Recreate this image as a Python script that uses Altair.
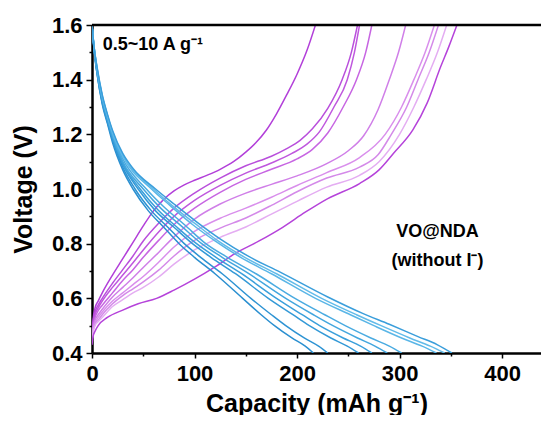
import altair as alt
import pandas as pd

# ---------------- charge curves (capacity mAh/g, voltage V) ----------------
c0_cap = [0, 1, 3, 6, 10, 20, 30, 40, 50, 60, 70, 80, 90, 100, 112, 125, 138, 150, 160, 170, 180, 190, 200, 210, 218]
c0_v = [0.44, 0.52, 0.565, 0.59, 0.62, 0.685, 0.745, 0.805, 0.865, 0.92, 0.962, 0.993, 1.015, 1.032, 1.05, 1.072, 1.1, 1.135, 1.17, 1.215, 1.275, 1.345, 1.42, 1.51, 1.6]
c1_cap = [0, 1, 3, 6, 10, 20, 30, 40, 50, 65, 80, 100, 125, 150, 175, 190, 203, 215, 230, 244, 253, 259]
c1_v = [0.44, 0.51, 0.55, 0.575, 0.6, 0.655, 0.705, 0.755, 0.81, 0.875, 0.93, 0.985, 1.04, 1.085, 1.12, 1.148, 1.178, 1.22, 1.295, 1.4, 1.5, 1.6]
c2_cap = [0, 1, 3, 6, 10, 20, 30, 40, 50, 65, 80, 100, 125, 150, 175, 195, 210, 222, 236, 249, 256, 261]
c2_v = [0.44, 0.5, 0.54, 0.565, 0.59, 0.64, 0.685, 0.73, 0.777, 0.843, 0.9, 0.958, 1.013, 1.058, 1.095, 1.13, 1.165, 1.21, 1.3, 1.4, 1.5, 1.6]
c3_cap = [0, 1, 3, 6, 10, 20, 30, 40, 50, 65, 80, 100, 125, 150, 175, 200, 215, 230, 245, 258, 267, 273]
c3_v = [0.44, 0.495, 0.53, 0.555, 0.575, 0.62, 0.665, 0.705, 0.75, 0.812, 0.87, 0.93, 0.988, 1.035, 1.072, 1.11, 1.145, 1.205, 1.3, 1.4, 1.5, 1.6]
c4_cap = [0, 1, 3, 6, 10, 20, 30, 40, 50, 65, 80, 100, 125, 150, 175, 200, 229, 250, 265, 279, 290, 299, 306]
c4_v = [0.44, 0.49, 0.52, 0.54, 0.56, 0.605, 0.64, 0.675, 0.713, 0.768, 0.825, 0.89, 0.945, 0.985, 1.017, 1.048, 1.093, 1.14, 1.195, 1.29, 1.4, 1.5, 1.6]
c5_cap = [0, 1, 3, 6, 10, 20, 30, 40, 50, 65, 80, 100, 125, 150, 175, 200, 229, 261, 286, 302, 314, 325, 334]
c5_v = [0.44, 0.485, 0.51, 0.53, 0.55, 0.59, 0.62, 0.65, 0.68, 0.732, 0.788, 0.845, 0.893, 0.93, 0.97, 1.013, 1.06, 1.115, 1.2, 1.3, 1.4, 1.5, 1.6]
c6_cap = [0, 1, 3, 6, 10, 20, 30, 40, 50, 65, 80, 100, 125, 150, 175, 200, 229, 261, 279, 292, 307, 318, 329, 338]
c6_v = [0.44, 0.48, 0.505, 0.52, 0.54, 0.58, 0.61, 0.635, 0.66, 0.703, 0.755, 0.812, 0.857, 0.894, 0.94, 0.99, 1.04, 1.08, 1.125, 1.2, 1.3, 1.4, 1.5, 1.6]
c7_cap = [0, 1, 3, 6, 10, 20, 30, 40, 50, 65, 80, 100, 125, 150, 175, 200, 229, 261, 280, 300, 314, 326, 337, 346]
c7_v = [0.44, 0.475, 0.5, 0.515, 0.53, 0.57, 0.595, 0.62, 0.64, 0.678, 0.725, 0.777, 0.823, 0.861, 0.908, 0.955, 1.007, 1.05, 1.1, 1.2, 1.3, 1.4, 1.5, 1.6]
c8_cap = [0, 1, 3, 6, 15, 30, 45, 63, 80, 100, 120, 140, 163, 186, 208, 230, 261, 280, 294, 313, 327, 340, 348, 356]
c8_v = [0.43, 0.46, 0.48, 0.5, 0.53, 0.557, 0.58, 0.6, 0.63, 0.67, 0.715, 0.765, 0.81, 0.86, 0.915, 0.965, 1.02, 1.07, 1.13, 1.216, 1.315, 1.446, 1.52, 1.6]

# ---------------- discharge curves ----------------
d0_cap = [0, 2, 5, 10, 15, 20, 30, 40, 55, 70, 85, 100, 120, 147, 165, 178, 195, 208, 216]
d0_v = [1.6, 1.51, 1.42, 1.31, 1.24, 1.17, 1.07, 1.0, 0.92, 0.86, 0.8, 0.75, 0.69, 0.6, 0.54, 0.5, 0.455, 0.425, 0.4]
d1_cap = [0, 2, 5, 10, 15, 20, 30, 42, 58, 74, 90, 106, 127, 155, 175, 189, 207, 221, 230]
d1_v = [1.6, 1.51, 1.42, 1.315, 1.245, 1.18, 1.08, 1.0, 0.92, 0.86, 0.8, 0.75, 0.69, 0.6, 0.54, 0.5, 0.455, 0.425, 0.4]
d2_cap = [0, 2, 5, 10, 15, 20, 30, 45, 62, 80, 98, 116, 140, 172, 196, 212, 233, 249, 260]
d2_v = [1.6, 1.515, 1.425, 1.32, 1.25, 1.185, 1.09, 1.0, 0.92, 0.86, 0.8, 0.75, 0.69, 0.6, 0.54, 0.5, 0.455, 0.425, 0.4]
d3_cap = [0, 2, 5, 10, 15, 20, 30, 47, 64, 83, 102, 121, 146, 180, 205, 222, 245, 262, 273]
d3_v = [1.6, 1.515, 1.43, 1.325, 1.255, 1.19, 1.095, 1.0, 0.925, 0.86, 0.8, 0.75, 0.69, 0.6, 0.54, 0.5, 0.455, 0.425, 0.4]
d4_cap = [0, 2, 5, 10, 15, 20, 30, 50, 67, 87, 107, 127, 153, 189, 216, 235, 259, 276, 288]
d4_v = [1.6, 1.515, 1.43, 1.33, 1.26, 1.195, 1.1, 1.0, 0.93, 0.865, 0.8, 0.75, 0.69, 0.6, 0.54, 0.5, 0.455, 0.425, 0.4]
d5_cap = [0, 2, 5, 10, 15, 20, 30, 53, 70, 90, 111, 132, 160, 198, 227, 247, 272, 290, 302]
d5_v = [1.6, 1.52, 1.435, 1.335, 1.265, 1.2, 1.11, 1.0, 0.935, 0.87, 0.8, 0.75, 0.69, 0.6, 0.54, 0.5, 0.455, 0.425, 0.4]
d6_cap = [0, 2, 5, 10, 15, 20, 30, 58, 76, 98, 120, 145, 175, 218, 252, 275, 302, 322, 336]
d6_v = [1.6, 1.52, 1.44, 1.34, 1.27, 1.205, 1.12, 1.0, 0.94, 0.87, 0.81, 0.75, 0.69, 0.6, 0.54, 0.5, 0.455, 0.425, 0.4]
d7_cap = [0, 2, 5, 10, 15, 20, 30, 60, 78, 100, 123, 149, 180, 224, 258, 282, 310, 330, 344]
d7_v = [1.6, 1.52, 1.44, 1.34, 1.27, 1.21, 1.125, 1.0, 0.94, 0.875, 0.81, 0.75, 0.69, 0.6, 0.54, 0.5, 0.455, 0.425, 0.4]
d8_cap = [0, 2, 5, 10, 15, 20, 30, 40, 62, 80, 102, 126, 152, 184, 230, 264, 290, 318, 337, 351]
d8_v = [1.6, 1.52, 1.445, 1.345, 1.275, 1.215, 1.13, 1.075, 1.0, 0.945, 0.88, 0.815, 0.755, 0.695, 0.605, 0.545, 0.505, 0.46, 0.43, 0.4]

charge_caps = [c0_cap, c1_cap, c2_cap, c3_cap, c4_cap, c5_cap, c6_cap, c7_cap, c8_cap]
charge_vs = [c0_v, c1_v, c2_v, c3_v, c4_v, c5_v, c6_v, c7_v, c8_v]
discharge_caps = [d0_cap, d1_cap, d2_cap, d3_cap, d4_cap, d5_cap, d6_cap, d7_cap, d8_cap]
discharge_vs = [d0_v, d1_v, d2_v, d3_v, d4_v, d5_v, d6_v, d7_v, d8_v]

charge_colors = ["#b23fd9", "#b94fdc", "#bf57de", "#c765e2", "#d07fe8", "#d98fec", "#d48ae9", "#e4adf2", "#b543da"]
discharge_colors = ["#2a8fd0", "#2d93d3", "#3399d7", "#3a9fdb", "#43a6de", "#4aabe1", "#5ab6e7", "#62bbe9", "#3a9edb"]

x_major = [0, 100, 200, 300, 400]
x_minor = [50, 150, 250, 350]
y_major = [0.4, 0.6, 0.8, 1.0, 1.2, 1.4, 1.6]
y_minor = [0.5, 0.7, 0.9, 1.1, 1.3, 1.5]

FONT = "Liberation Sans"


def build(caps_list, vs_list, prefix):
    rows = []
    for i, (cs, vs) in enumerate(zip(caps_list, vs_list)):
        for k, (c, v) in enumerate(zip(cs, vs)):
            rows.append({"series": f"{prefix}{i}", "cap": c, "v": v, "ord": k})
    return pd.DataFrame(rows)


df_c = build(charge_caps, charge_vs, "c")
df_d = build(discharge_caps, discharge_vs, "d")

names = [f"c{i}" for i in range(9)] + [f"d{i}" for i in range(9)]
colors = charge_colors + discharge_colors
color_scale = alt.Scale(domain=names, range=colors)

xs = alt.Scale(domain=[0, 438], nice=False, zero=False)
ys = alt.Scale(domain=[0.4, 1.6], nice=False, zero=False)

charge = alt.Chart(df_c).mark_line(strokeWidth=1.5, clip=True, interpolate="monotone").encode(
    x=alt.X("cap:Q", scale=xs, axis=None),
    y=alt.Y("v:Q", scale=ys, axis=None),
    color=alt.Color("series:N", scale=color_scale, legend=None),
    order="ord:Q",
)

discharge = alt.Chart(df_d).mark_line(strokeWidth=1.5, clip=True, interpolate="monotone").encode(
    x=alt.X("cap:Q", scale=xs, axis=alt.Axis(
        values=x_major, tickSize=5, labelPadding=5, labelFlush=False,
        title="Capacity (mAh g⁻¹)", titleFontSize=25, titleFont=FONT, titleFontWeight="bold",
        titleY=58, titleBaseline="alphabetic", titleColor="black")),
    y=alt.Y("v:Q", scale=ys, axis=alt.Axis(
        values=y_major, format=".1f", tickSize=6, labelPadding=4, labelFlush=False,
        title="Voltage (V)", titleFontSize=25, titleFont=FONT, titleFontWeight="bold",
        titleX=-69, titleY=164, titleAngle=-90, titleAlign="center", titleBaseline="middle",
        titleColor="black")),
    color=alt.Color("series:N", scale=color_scale, legend=None),
    order="ord:Q",
)

top_df = pd.DataFrame({"v": [1.6]})
top_rule = alt.Chart(top_df).mark_rule(color="black", strokeWidth=2.5).encode(
    y=alt.Y("v:Q", scale=ys, axis=None)
)

rate_df = pd.DataFrame({"cap": [10.5], "v": [1.508], "t": ["0.5~10 A g⁻¹"]})
rate_text = alt.Chart(rate_df).mark_text(
    align="left", baseline="alphabetic", font=FONT, fontSize=18, fontWeight="bold", color="black"
).encode(
    x=alt.X("cap:Q", scale=xs, axis=alt.Axis(values=x_minor, orient="bottom", labels=False,
                                             domain=False, tickSize=3, title=None)),
    y=alt.Y("v:Q", scale=ys, axis=alt.Axis(values=y_minor, orient="left", labels=False,
                                           domain=False, tickSize=3, title=None)),
    text="t:N",
)

label_df = pd.DataFrame({"cap": [337, 337], "v": [0.843, 0.736], "t": ["VO@NDA", "(without I⁻)"]})
label_text = alt.Chart(label_df).mark_text(
    align="center", baseline="middle", font=FONT, fontSize=18, fontWeight="bold", color="black"
).encode(
    x=alt.X("cap:Q", scale=xs, axis=None),
    y=alt.Y("v:Q", scale=ys, axis=None),
    text="t:N",
)

chart = alt.layer(charge, discharge, top_rule, rate_text, label_text).resolve_axis(
    x="independent", y="independent"
).properties(
    width=449, height=328,
    padding={"left": 84, "top": 17, "right": 0, "bottom": 62},
    autosize=alt.AutoSizeParams(type="none"),
).configure_view(stroke=None).configure_axis(
    domainColor="black", domainWidth=2.5, tickColor="black", tickWidth=1.5,
    labelFont=FONT, labelFontSize=22, labelFontWeight="bold", labelColor="black", grid=False,
)

chart.save("out.html", embed_options={"renderer": "svg", "actions": False})
